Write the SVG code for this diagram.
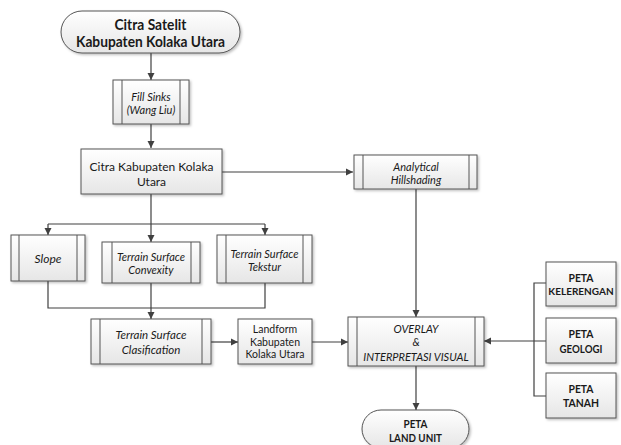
<svg xmlns="http://www.w3.org/2000/svg" width="621" height="445" viewBox="0 0 621 445">
<defs>
<linearGradient id="g" x1="0" y1="0" x2="0" y2="1">
<stop offset="0" stop-color="#ffffff"/>
<stop offset="1" stop-color="#e6e6e6"/>
</linearGradient>
<filter id="sh" x="-10%" y="-10%" width="130%" height="140%">
<feDropShadow dx="1.5" dy="1.5" stdDeviation="1" flood-color="#000" flood-opacity="0.25"/>
</filter>
<marker id="ar" markerWidth="8" markerHeight="8" refX="7" refY="4" orient="auto" markerUnits="userSpaceOnUse">
<path d="M0,0.5 L7,4 L0,7.5 Z" fill="#404040"/>
</marker>
</defs>
<style>
.b{fill:url(#g);stroke:#555;stroke-width:1;filter:url(#sh)}
.i{stroke:#555;stroke-width:1;fill:none}
.c{fill:none;stroke:#404040;stroke-width:1.2}
.a{marker-end:url(#ar)}
text{font-family:Lato,"Liberation Sans",sans-serif;fill:#1a1a1a;text-anchor:middle;dominant-baseline:central}
.t{font-weight:bold;font-size:15px}
.s{font-size:11px;font-style:italic}
.n{font-size:12px}
.bb{font-weight:bold;font-size:12px}
</style>
<g id="connectors">
<path class="c a" d="M151,53 V80"/>
<path class="c a" d="M151,124 V148"/>
<path class="c a" d="M222,172 H353"/>
<path class="c" d="M151,194 V224"/>
<path class="c a" d="M48,224 V235"/>
<path class="c a" d="M265,224 V235"/>
<path class="c a" d="M151,224 V242"/>
<path class="c" d="M48,224 H265"/>
<path class="c" d="M48,281 V308 H265 V283"/>
<path class="c a" d="M151,283 V319"/>
<path class="c a" d="M211,342 H238"/>
<path class="c a" d="M312,342 H348"/>
<path class="c a" d="M416,189 V317"/>
<path class="c a" d="M546,341 H484"/>
<path class="c" d="M546,283 H534 V396 H546"/>
<path class="c a" d="M416,366 V410"/>
</g>
<g id="citra-satelit">
<rect class="b" x="61" y="11" width="179" height="42" rx="21"/>
<text class="t" x="150.5" y="24" textLength="72" lengthAdjust="spacingAndGlyphs">Citra Satelit</text>
<text class="t" x="150.5" y="41" textLength="149" lengthAdjust="spacingAndGlyphs">Kabupaten Kolaka Utara</text>
</g>
<g id="fill-sinks">
<rect class="b" x="113" y="80" width="76" height="44"/>
<path class="i" d="M122,80 V124 M180,80 V124"/>
<text class="s" x="151" y="96">Fill Sinks</text>
<text class="s" x="151" y="109">(Wang Liu)</text>
</g>
<g id="citra-kabupaten">
<rect class="b" x="81" y="149" width="141" height="45"/>
<text class="n" x="151.5" y="166">Citra Kabupaten Kolaka</text>
<text class="n" x="151.5" y="181">Utara</text>
</g>
<g id="analytical-hillshading">
<rect class="b" x="354" y="155" width="123" height="34"/>
<path class="i" d="M363,155 V189 M469,155 V189"/>
<text class="s" x="416" y="166">Analytical</text>
<text class="s" x="416" y="179">Hillshading</text>
</g>
<g id="slope">
<rect class="b" x="11" y="235" width="74" height="46"/>
<path class="i" d="M19,235 V281 M77,235 V281"/>
<text class="s" x="48" y="258" style="font-size:12px">Slope</text>
</g>
<g id="convexity">
<rect class="b" x="102" y="242" width="98" height="41"/>
<path class="i" d="M112,242 V283 M191,242 V283"/>
<text class="s" x="151" y="256">Terrain Surface</text>
<text class="s" x="151" y="269">Convexity</text>
</g>
<g id="tekstur">
<rect class="b" x="217" y="235" width="95" height="48"/>
<path class="i" d="M226,235 V283 M303,235 V283"/>
<text class="s" x="264.5" y="253">Terrain Surface</text>
<text class="s" x="264.5" y="266">Tekstur</text>
</g>
<g id="clasification">
<rect class="b" x="91" y="319" width="120" height="45"/>
<path class="i" d="M100,319 V364 M202,319 V364"/>
<text class="s" x="151" y="334" style="font-size:11.5px">Terrain Surface</text>
<text class="s" x="151" y="349" style="font-size:11.5px">Clasification</text>
</g>
<g id="landform">
<rect class="b" x="238" y="319" width="74" height="45"/>
<text class="n" x="275" y="329" style="font-size:10.5px">Landform</text>
<text class="n" x="275" y="342" style="font-size:10.5px">Kabupaten</text>
<text class="n" x="275" y="354" style="font-size:10.5px">Kolaka Utara</text>
</g>
<g id="overlay">
<rect class="b" x="348" y="317" width="136" height="49"/>
<path class="i" d="M357,317 V366 M475,317 V366"/>
<text class="s" x="416" y="328">OVERLAY</text>
<text class="s" x="416" y="341">&amp;</text>
<text class="s" x="416" y="356">INTERPRETASI VISUAL</text>
</g>
<g id="peta-kelerengan">
<rect class="b" x="546" y="262" width="70" height="44"/>
<text class="bb" x="581" y="277" textLength="25" lengthAdjust="spacingAndGlyphs">PETA</text>
<text class="bb" x="581" y="291" style="font-size:10px">KELERENGAN</text>
</g>
<g id="peta-geologi">
<rect class="b" x="546" y="318" width="70" height="45"/>
<text class="bb" x="581" y="333" textLength="25" lengthAdjust="spacingAndGlyphs">PETA</text>
<text class="bb" x="581" y="348" textLength="43" lengthAdjust="spacingAndGlyphs">GEOLOGI</text>
</g>
<g id="peta-tanah">
<rect class="b" x="546" y="373" width="70" height="45"/>
<text class="bb" x="581" y="388" textLength="25" lengthAdjust="spacingAndGlyphs">PETA</text>
<text class="bb" x="581" y="402" textLength="36" lengthAdjust="spacingAndGlyphs">TANAH</text>
</g>
<g id="peta-land-unit">
<rect class="b" x="362" y="410" width="107" height="38" rx="19"/>
<text class="bb" x="415.5" y="423" textLength="24" lengthAdjust="spacingAndGlyphs">PETA</text>
<text class="bb" x="415.5" y="437" textLength="53" lengthAdjust="spacingAndGlyphs">LAND UNIT</text>
</g>
</svg>
